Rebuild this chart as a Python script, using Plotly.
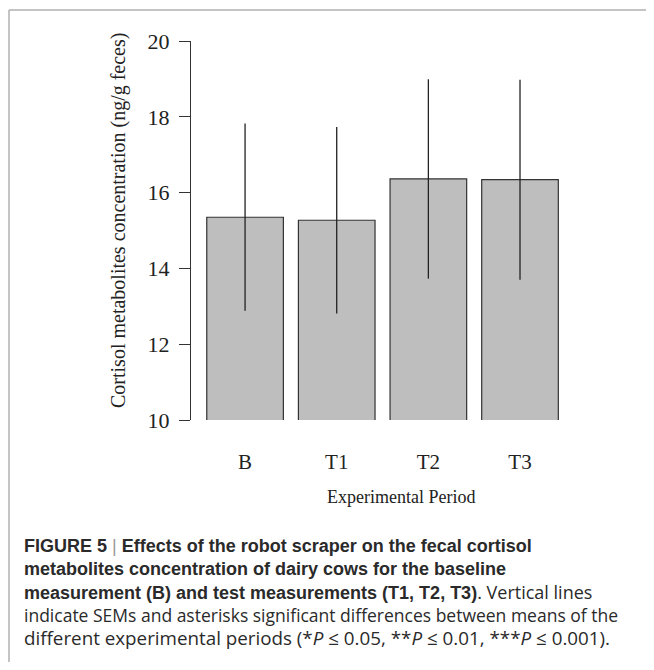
import plotly.graph_objects as go

categories = ["B", "T1", "T2", "T3"]
means = [15.35, 15.27, 16.36, 16.34]
sem = [2.47, 2.46, 2.63, 2.64]
y_ticks = [10, 12, 14, 16, 18, 20]

OFF = 8  # page body margin
W, H = 654 - 2 * OFF, 670 - 2 * OFF
L, T = 191 - OFF, 41 - OFF
BOT = 420 - OFF
RIGHT = 575 - OFF
R, B = W - RIGHT, H - BOT
pw, ph = W - L - R, H - T - B

def px(xp):
    return (xp - OFF - L) / pw

def py(yp):
    return (BOT - (yp - OFF)) / ph

fig = go.Figure()
fig.add_trace(go.Bar(
    x=categories, y=means,
    marker=dict(color="#bebebe", line=dict(color="#333333", width=1.2)),
    error_y=dict(type="data", array=sem, visible=True, width=0, thickness=1.3, color="#222222"),
))

serif = "Liberation Serif, Times New Roman, serif"
sans = "Liberation Sans, Arial, sans-serif"

fig.update_layout(
    width=W, height=H,
    margin=dict(l=L, r=R, t=T, b=B, autoexpand=False),
    paper_bgcolor="white", plot_bgcolor="white",
    showlegend=False,
    bargap=0.164,
    xaxis=dict(range=[-0.59, 3.6], showline=False, showgrid=False, zeroline=False,
               ticks="", tickfont=dict(family=serif, size=21, color="#222222"),
               ticklabelstandoff=27),
    yaxis=dict(range=[10, 20], tickvals=y_ticks, showline=True, linecolor="#333333",
               linewidth=1.2, ticks="outside", ticklen=11, tickwidth=1.2, tickcolor="#333333",
               showgrid=False, zeroline=False,
               tickfont=dict(family=serif, size=22, color="#222222"),
               ticklabelstandoff=5),
)

annotations = [
    dict(text="Cortisol metabolites concentration (ng/g feces)", x=px(118), y=py(221),
         textangle=-90, font=dict(family=serif, size=20, color="#222222")),
    dict(text="Experimental Period", x=px(401), y=py(497),
         font=dict(family=serif, size=18, color="#222222")),
]

reg = "<span style='font-family:Open Sans'>{}</span>"
cap_lines = [
    ("<b>FIGURE 5</b> <span style='color:#999999'>|</span> <b>Effects of the robot scraper on the fecal cortisol</b>", 18),
    ("<b>metabolites concentration of dairy cows for the baseline</b>", 18),
    ("<b>measurement (B) and test measurements (T1, T2, T3)</b>" + reg.format(". Vertical lines"), 18),
    (reg.format("indicate SEMs and asterisks significant differences between means of the"), 17.5),
    (reg.format("different experimental periods (*<i>P</i> ≤ 0.05, **<i>P</i> ≤ 0.01, ***<i>P</i> ≤ 0.001)."), 18.8),
]
cap_y = [546, 569, 592, 615, 638]
for (t, fs), yy in zip(cap_lines, cap_y):
    annotations.append(dict(text=t, x=px(22), y=py(yy), xanchor="left", yanchor="middle",
                            font=dict(family=sans, size=fs, color="#2a2a2a")))

for a in annotations:
    a.setdefault("xref", "paper")
    a.setdefault("yref", "paper")
    a.setdefault("showarrow", False)
    a.setdefault("xanchor", "center")
    a.setdefault("yanchor", "middle")
fig.update_layout(annotations=annotations)

# figure frame (top and left edges)
fig.add_shape(type="line", xref="paper", yref="paper", x0=px(9), x1=px(660), y0=py(10), y1=py(10),
              line=dict(color="#b0b0b0", width=1.5))
fig.add_shape(type="line", xref="paper", yref="paper", x0=px(9), x1=px(9), y0=py(10), y1=py(680),
              line=dict(color="#b0b0b0", width=1.5))

fig.write_html("out.html")
